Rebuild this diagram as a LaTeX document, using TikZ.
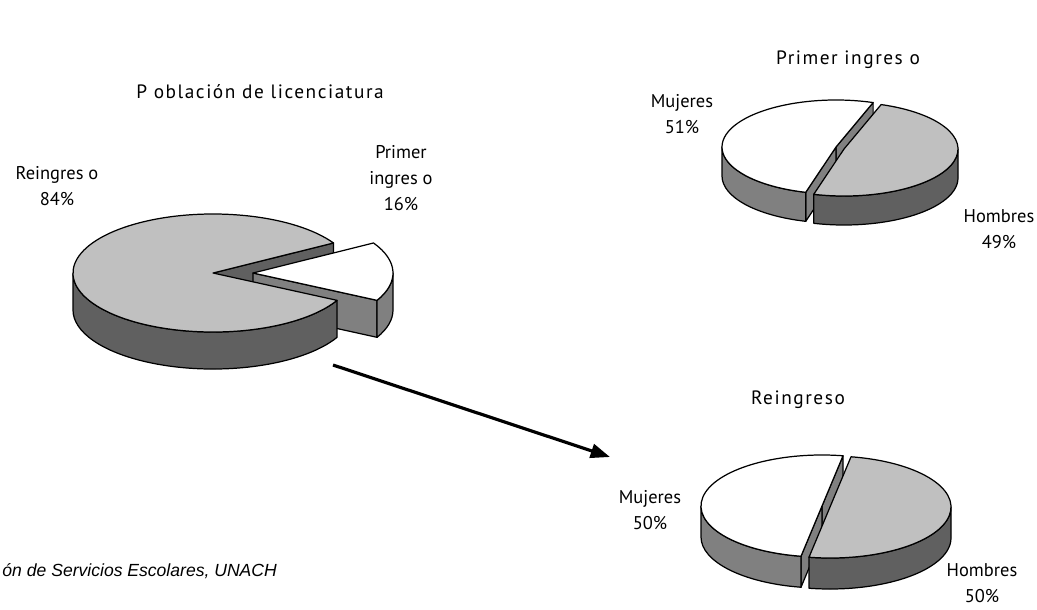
\documentclass[tikz,border=0pt]{standalone}
\usepackage{fontspec}
\setmainfont{PT Sans}
\newfontfamily\fuentepie{Liberation Sans}
\newfontfamily\titulofont[LetterSpace=8]{PT Sans}
\usetikzlibrary{arrows.meta}

\definecolor{piegris}{HTML}{C0C0C0}
\definecolor{pieoscuro}{HTML}{606060}
\definecolor{piemedio}{HTML}{808080}

\begin{document}
\begin{tikzpicture}[x=0.02cm,y=0.02cm,line width=0.7pt,line join=round,
    tapa/.style={draw=black,fill=piegris},
    tapablanca/.style={draw=black,fill=white},
    lado/.style={draw=black,fill=pieoscuro},
    ladomedio/.style={draw=black,fill=piemedio},
    rlic/.style={x radius=140,y radius=59},
    rpri/.style={x radius=114,y radius=47},
    rrei/.style={x radius=121,y radius=51},
    etiqueta/.style={align=center,font=\fontsize{10.5}{15}\selectfont},
    titulo/.style={font=\titulofont\fontsize{11}{13}\selectfont}]
\useasboundingbox (0,0) rectangle (1037,-609);

% Poblacion de licenciatura
\coordinate (licg) at (213,-273);
\coordinate (licw) at (253,-273);
\draw[lado] (licg) -- ++(30.6:140 and 59) -- ++(0,-37) -- ++(210.6:140 and 59) -- cycle;
\draw[ladomedio] (licw) -- ++(-27.6:140 and 59) -- ++(0,-37) -- ++(152.4:140 and 59) -- cycle;
\draw[ladomedio] (licw) ++(-27.6:140 and 59) arc[rlic,start angle=-27.6,end angle=0] -- ++(0,-37) arc[rlic,start angle=0,end angle=-27.6] -- cycle;
\draw[lado] (licg) ++(180:140 and 59) arc[rlic,start angle=180,end angle=332.4] -- ++(0,-37) arc[rlic,start angle=332.4,end angle=180] -- cycle;
\draw[tapa] (licg) -- ++(30.6:140 and 59) arc[rlic,start angle=30.6,end angle=332.4] -- cycle;
\draw[tapablanca] (licw) -- ++(-27.6:140 and 59) arc[rlic,start angle=-27.6,end angle=30.6] -- cycle;

% Primer ingreso
\coordinate (primuj) at (836,-147);
\coordinate (prihom) at (844,-149);
\draw[ladomedio] (primuj) -- ++(71:114 and 47) -- ++(0,-29) -- ++(251:114 and 47) -- cycle;
\draw[ladomedio] (primuj) -- ++(254.6:114 and 47) -- ++(0,-29) -- ++(74.6:114 and 47) -- cycle;
\draw[ladomedio] (primuj) ++(180:114 and 47) arc[rpri,start angle=180,end angle=254.6] -- ++(0,-29) arc[rpri,start angle=254.6,end angle=180] -- cycle;
\draw[tapablanca] (primuj) -- ++(71:114 and 47) arc[rpri,start angle=71,end angle=254.6] -- cycle;
\draw[lado] (prihom) ++(254.6:114 and 47) arc[rpri,start angle=254.6,end angle=360] -- ++(0,-29) arc[rpri,start angle=360,end angle=254.6] -- cycle;
\draw[tapa] (prihom) -- ++(254.6:114 and 47) arc[rpri,start angle=254.6,end angle=431] -- cycle;

% Reingreso
\coordinate (remuj) at (822,-506);
\coordinate (rehom) at (830,-507);
\draw[ladomedio] (remuj) -- ++(80:121 and 51) -- ++(0,-31) -- ++(260:121 and 51) -- cycle;
\draw[ladomedio] (remuj) -- ++(260:121 and 51) -- ++(0,-31) -- ++(80:121 and 51) -- cycle;
\draw[ladomedio] (remuj) ++(180:121 and 51) arc[rrei,start angle=180,end angle=260] -- ++(0,-31) arc[rrei,start angle=260,end angle=180] -- cycle;
\draw[tapablanca] (remuj) -- ++(80:121 and 51) arc[rrei,start angle=80,end angle=260] -- cycle;
\draw[lado] (rehom) ++(260:121 and 51) arc[rrei,start angle=260,end angle=360] -- ++(0,-31) arc[rrei,start angle=360,end angle=260] -- cycle;
\draw[tapa] (rehom) -- ++(260:121 and 51) arc[rrei,start angle=260,end angle=440] -- cycle;

% titulos y etiquetas
\node[titulo] (tpob) at (260,-92) {P oblación de licenciatura};
\node[titulo] (tpri) at (848,-60) {Primer ingres o};
\node[titulo] (trei) at (798,-400) {Reingreso};
\node[etiqueta] (lreing) at (57,-186) {Reingres o\\84\%};
\node[etiqueta] (lprim) at (401,-178) {Primer\\ingres o\\16\%};
\node[etiqueta] (lmuj1) at (682,-114) {Mujeres\\51\%};
\node[etiqueta] (lhom1) at (999,-229) {Hombres\\49\%};
\node[etiqueta] (lmuj2) at (650,-510) {Mujeres\\50\%};
\node[etiqueta] (lhom2) at (982,-583) {Hombres\\50\%};
\node[anchor=west,font=\fuentepie\itshape\fontsize{10}{12}\selectfont] (fuente) at (-4,-571) {ón de Servicios Escolares, UNACH};

% flecha
\coordinate (flechaini) at (333,-365);
\coordinate (flechafin) at (610,-457);
\draw[line width=1.8pt,-{Triangle[length=11pt,width=8pt]}] (flechaini) -- (flechafin);

\end{tikzpicture}
\end{document}
